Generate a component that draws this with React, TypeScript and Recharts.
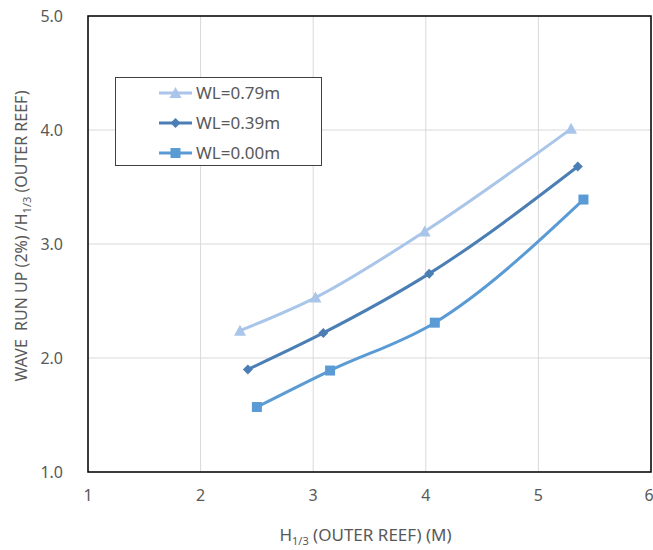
import {
  LineChart,
  Line,
  XAxis,
  YAxis,
  CartesianGrid,
  ReferenceArea,
} from "recharts";

const xTicks = [1, 2, 3, 4, 5, 6];
const yTicks = [1, 2, 3, 4, 5];

const wl079X = [2.35, 3.02, 3.99, 5.29];
const wl079Y = [2.24, 2.53, 3.11, 4.01];
const wl039X = [2.42, 3.09, 4.03, 5.35];
const wl039Y = [1.9, 2.22, 2.74, 3.68];
const wl000X = [2.5, 3.15, 4.08, 5.4];
const wl000Y = [1.57, 1.89, 2.31, 3.39];

const seriesNames = ["WL=0.79m", "WL=0.39m", "WL=0.00m"];

const toRows = (xs: number[], ys: number[]) => xs.map((x, i) => ({ x, y: ys[i] }));

const series = [
  { name: seriesNames[0], data: toRows(wl079X, wl079Y), color: "#a9c5e9", shape: "triangle" },
  { name: seriesNames[1], data: toRows(wl039X, wl039Y), color: "#4a7eb5", shape: "diamond" },
  { name: seriesNames[2], data: toRows(wl000X, wl000Y), color: "#5b9bd5", shape: "square" },
];

const FONT = "'Noto Sans', sans-serif";
const TEXT = "#595959";

const Marker = ({ cx, cy, shape, color }: any) => {
  if (cx == null || cy == null) return null;
  if (shape === "triangle") {
    return <path d={`M${cx},${cy - 6} L${cx + 6},${cy + 5} L${cx - 6},${cy + 5} Z`} fill={color} />;
  }
  if (shape === "diamond") {
    return <path d={`M${cx},${cy - 5} L${cx + 5},${cy} L${cx},${cy + 5} L${cx - 5},${cy} Z`} fill={color} />;
  }
  return <rect x={cx - 5} y={cy - 5} width={10} height={10} fill={color} />;
};

// legend box drawn over the plot, like the inset legend in the original
const LegendBox = () => (
  <div
    style={{
      position: "absolute",
      left: 115,
      top: 77,
      width: 205,
      height: 87,
      border: "1px solid #404040",
      background: "#fff",
    }}
  >
    <svg width={205} height={87} style={{ display: "block" }}>
      {series.map((s, i) => {
        const y = 15 + i * 30;
        return (
          <g key={s.name}>
            <line x1={43} x2={76} y1={y} y2={y} stroke={s.color} strokeWidth={3} />
            <Marker cx={59.5} cy={y} shape={s.shape} color={s.color} />
            <text x={80} y={y + 6} fontFamily={FONT} fontSize={17} fill={TEXT}>
              {s.name}
            </text>
          </g>
        );
      })}
    </svg>
  </div>
);

const XLabel = ({ viewBox }: any) => {
  const cx = viewBox.x + viewBox.width / 2 - 4;
  return (
    <text x={cx} y={541} textAnchor="middle" fontFamily={FONT} fontSize={17} fill={TEXT}>
      H
      <tspan fontSize={11} dy={4}>1/3</tspan>
      <tspan dy={-4}> (OUTER REEF) (M)</tspan>
    </text>
  );
};

const YLabel = ({ viewBox }: any) => {
  const cy = viewBox.y + viewBox.height / 2 - 8;
  return (
    <text
      x={27}
      y={cy}
      transform={`rotate(-90, 27, ${cy})`}
      textAnchor="middle"
      fontFamily={FONT}
      fontSize={16}
      fill={TEXT}
      style={{ whiteSpace: "pre" }}
    >
      {"WAVE  RUN UP (2%) /H"}
      <tspan fontSize={11} dy={4}>1/3</tspan>
      <tspan dy={-4}> (OUTER REEF)</tspan>
    </text>
  );
};

export default function App() {
  return (
    <div style={{ position: "absolute", left: 0, top: 0, background: "#fff" }}>
      <LineChart width={653} height={550} margin={{ top: 16, right: 2, left: 0, bottom: 0 }}>
        <CartesianGrid stroke="#d9d9d9" strokeWidth={1} />
        <XAxis
          dataKey="x"
          type="number"
          domain={[1, 6]}
          ticks={xTicks}
          allowDuplicatedCategory={false}
          height={78}
          axisLine={false}
          tickLine={false}
          tickSize={0}
          tickMargin={18}
          tick={{ fontFamily: FONT, fontSize: 16, fill: TEXT }}
          label={<XLabel />}
        />
        <YAxis
          type="number"
          domain={[1, 5]}
          ticks={yTicks}
          width={88}
          axisLine={false}
          tickLine={false}
          tickSize={0}
          tickMargin={25}
          tickFormatter={(v: number) => v.toFixed(1)}
          tick={{ fontFamily: FONT, fontSize: 16, fill: TEXT }}
          label={<YLabel />}
        />
        <ReferenceArea x1={1} x2={6} y1={1} y2={5} fill="none" stroke="#000" strokeWidth={1.5} fillOpacity={0} />
        {series.map((s) => (
          <Line
            key={s.name}
            data={s.data}
            dataKey="y"
            name={s.name}
            type="monotone"
            stroke={s.color}
            strokeWidth={3}
            dot={<Marker shape={s.shape} color={s.color} />}
            activeDot={false}
            isAnimationActive={false}
          />
        ))}
      </LineChart>
      <LegendBox />
    </div>
  );
}
